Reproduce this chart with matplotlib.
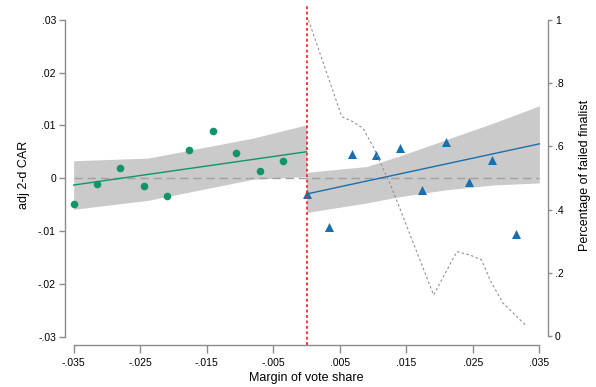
import numpy as np
import matplotlib
matplotlib.use("Agg")
import matplotlib.pyplot as plt

plt.rcParams['font.family'] = ['Liberation Sans', 'DejaVu Sans']

GREEN = '#12946b'
BLUE = '#1a6eac'
BAND = '#cacaca'
AXC = '#8c8c8c'

# binned CAR below the cutoff
left_x = [-0.0350, -0.0315, -0.0280, -0.0245, -0.0210, -0.0176, -0.0140, -0.0106, -0.0070, -0.0035]
left_y = [-0.0049, -0.0011, 0.0019, -0.0014, -0.0033, 0.0054, 0.0090, 0.0048, 0.0013, 0.0033]
# binned CAR above the cutoff
right_x = [0.0000, 0.0034, 0.0069, 0.0105, 0.0140, 0.0174, 0.0209, 0.0244, 0.0279, 0.0315]
right_y = [-0.0030, -0.0093, 0.0045, 0.0043, 0.0058, -0.0022, 0.0069, -0.0008, 0.0035, -0.0105]

# linear fits with 95% bands
left_fit_x = [-0.035, 0.0]
left_fit_y = [-0.0013, 0.0050]
left_band_x = [-0.035, -0.0238, -0.0080, 0.0]
left_band_hi = [0.0033, 0.0038, 0.0076, 0.0101]
left_band_lo = [-0.0059, -0.0042, -0.0002, 0.0003]

right_fit_x = [0.0, 0.035]
right_fit_y = [-0.0030, 0.0065]
right_band_x = [0.0, 0.009, 0.014, 0.021, 0.028, 0.035]
right_band_hi = [0.0011, 0.0022, 0.0042, 0.0073, 0.0104, 0.0137]
right_band_lo = [-0.0065, -0.0047, -0.0035, -0.0022, -0.0013, -0.0009]

# share of failed finalists (right axis)
fail_x = [0.0003, 0.0053, 0.0070, 0.0085, 0.0100, 0.0128, 0.0191, 0.0226, 0.0246,
          0.0263, 0.0276, 0.0295, 0.0329]
fail_y = [1.0, 0.694, 0.678, 0.657, 0.60, 0.47, 0.13, 0.267, 0.256,
          0.241, 0.177, 0.105, 0.035]

xticks = [-0.035, -0.025, -0.015, -0.005, 0.005, 0.015, 0.025, 0.035]
xtick_labels = ['-.035', '-.025', '-.015', '-.005', '.005', '.015', '.025', '.035']
yticks = [-0.03, -0.02, -0.01, 0.0, 0.01, 0.02, 0.03]
ytick_labels = ['-.03', '-.02', '-.01', '0', '.01', '.02', '.03']
rticks = [0, 0.2, 0.4, 0.6, 0.8, 1.0]
rtick_labels = ['0', '.2', '.4', '.6', '.8', '1']

fig = plt.figure(figsize=(5.96, 3.87), dpi=100)
ax = fig.add_axes([65 / 596, 42 / 387, 483 / 596, 340 / 387])
ax.set_xlim(-0.0363, 0.0363)
ax.set_ylim(-0.0316, 0.0328)

ax.fill_between(left_band_x, left_band_lo, left_band_hi, color=BAND, lw=0, zorder=1)
ax.fill_between(right_band_x, right_band_lo, right_band_hi, color=BAND, lw=0, zorder=1)
ax.plot([-0.035, 0.035], [0, 0], color='#a0a0a0', lw=1.0, dashes=(6, 3.5), zorder=2)
ax.plot(left_fit_x, left_fit_y, color=GREEN, lw=1.0, zorder=3)
ax.plot(right_fit_x, right_fit_y, color=BLUE, lw=1.0, zorder=3)
ax.scatter(left_x, left_y, s=30, marker='o', color=GREEN, lw=0, zorder=4)
ax.scatter(right_x, right_y, s=42, marker='^', color=BLUE, lw=0, zorder=4)
ax.axvline(0, color='#ff2a2a', lw=1.3, dashes=(1.6, 1.4), zorder=5)

for side in ['top', 'right']:
    ax.spines[side].set_visible(False)
ax.spines['left'].set_bounds(-0.03, 0.03)
ax.spines['bottom'].set_bounds(-0.035, 0.035)
for side in ['left', 'bottom']:
    ax.spines[side].set_color(AXC)
    ax.spines[side].set_linewidth(1.0)

ax.set_xticks(xticks, xtick_labels)
ax.set_yticks(yticks, ytick_labels)
ax.tick_params(axis='x', length=6, width=1.0, color=AXC, labelsize=7.5, pad=3)
ax.tick_params(axis='y', length=4.5, width=1.0, color=AXC, labelsize=7.5, pad=2)
ax.set_xlabel('Margin of vote share', fontsize=9, labelpad=3)
ax.set_ylabel('adj 2-d CAR', fontsize=9, labelpad=6)

ax2 = ax.twinx()
ax2.set_ylim(-0.0285, 1.0475)
ax2.plot(fail_x, fail_y, color='#909090', lw=0.8, dashes=(2.2, 2.2))
for side in ['top', 'left', 'bottom']:
    ax2.spines[side].set_visible(False)
ax2.spines['right'].set_bounds(0, 1)
ax2.spines['right'].set_color(AXC)
ax2.spines['right'].set_linewidth(1.0)
ax2.set_yticks(rticks, rtick_labels)
ax2.tick_params(axis='y', length=3, width=1.0, color=AXC, labelsize=7.5, pad=2)
ax2.set_ylabel('Percentage of failed finalist', fontsize=9, labelpad=11)

fig.savefig('out.png', dpi=100)
